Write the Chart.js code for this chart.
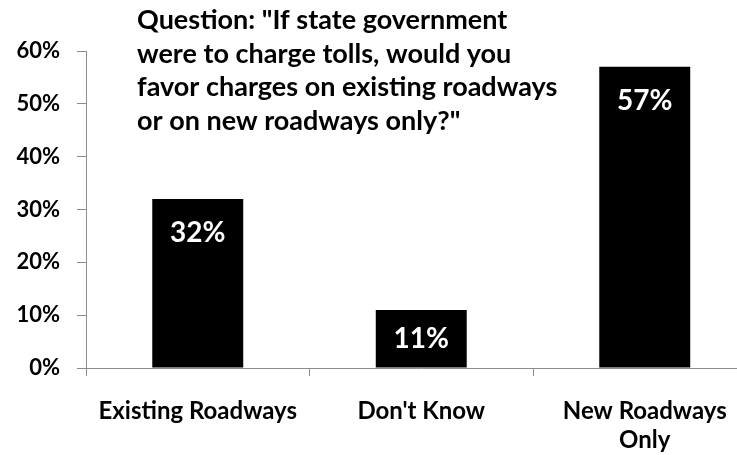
<!DOCTYPE html>
<html>
<head>
<meta charset="utf-8">
<script src="https://cdn.jsdelivr.net/npm/chart.js@4.4.1/dist/chart.umd.min.js"></script>
<style>
  html, body { margin: 0; padding: 0; background: #fff; overflow: hidden; }
  #wrap { width: 737px; height: 455px; overflow: hidden; position: relative; }
  #chart { display: block; }
</style>
</head>
<body>
<div id="wrap"><canvas id="chart" width="760" height="455"></canvas></div>
<script>
// data
const categories = [["Existing Roadways"], ["Don't Know"], ["New Roadways", "Only"]];
const shares = [32, 11, 57];
const yTicks = [0, 10, 20, 30, 40, 50, 60];
const titleLines = [
  "Question: \"If state government",
  "were to charge tolls, would you",
  "favor charges on existing roadways",
  "or on new roadways only?\""
];

const FONT = "Lato, 'Open Sans', sans-serif";
const AXIS = "#8c8c8c";

// question text sitting inside the plot, top left
const questionText = {
  id: "questionText",
  afterDraw(chart) {
    const ctx = chart.ctx;
    ctx.save();
    ctx.fillStyle = "#000";
    ctx.font = "bold 27px " + FONT;
    ctx.textAlign = "left";
    ctx.textBaseline = "alphabetic";
    titleLines.forEach((line, i) => {
      ctx.fillText(line, 137, 29 + i * 33.5);
    });
    ctx.restore();
  }
};

// white value labels inside the bars
const barLabels = {
  id: "barLabels",
  afterDatasetsDraw(chart) {
    const ctx = chart.ctx;
    const meta = chart.getDatasetMeta(0);
    ctx.save();
    ctx.fillStyle = "#fff";
    ctx.font = "bold 28px " + FONT;
    ctx.textAlign = "center";
    ctx.textBaseline = "middle";
    meta.data.forEach((bar, i) => {
      const y = Math.min(bar.y + 34, (bar.y + bar.base) / 2);
      ctx.fillText(shares[i] + "%", bar.x, y);
    });
    ctx.restore();
  }
};

const chart = new Chart(document.getElementById("chart").getContext("2d"), {
  type: "bar",
  data: {
    labels: categories,
    datasets: [{
      data: shares,
      backgroundColor: "#000",
      borderWidth: 0,
      categoryPercentage: 1.0,
      barPercentage: 0.407
    }]
  },
  options: {
    responsive: false,
    animation: false,
    layout: { padding: { top: 51, right: 3.5, left: 0, bottom: 0 } },
    plugins: {
      legend: { display: false },
      tooltip: { enabled: false }
    },
    scales: {
      x: {
        grid: { display: true, offset: true, drawOnChartArea: false, tickLength: 8, color: AXIS },
        border: { display: true, color: AXIS, width: 1 },
        ticks: {
          color: "#000",
          padding: 21,
          maxRotation: 0,
          autoSkip: false,
          font: { family: FONT, size: 24, weight: "bold", lineHeight: 1.2 }
        },
        afterFit(scale) { scale.height = 87; }
      },
      y: {
        min: 0,
        max: 60,
        afterBuildTicks(scale) { scale.ticks = yTicks.map(v => ({ value: v })); },
        grid: { display: true, drawOnChartArea: false, tickLength: 9, color: AXIS },
        border: { display: true, color: AXIS, width: 1 },
        ticks: {
          color: "#000",
          padding: 17,
          callback: v => v + "%",
          font: { family: FONT, size: 22, weight: "bold" }
        },
        afterFit(scale) { scale.width = 86; }
      }
    }
  },
  plugins: [questionText, barLabels]
});
</script>
</body>
</html>
